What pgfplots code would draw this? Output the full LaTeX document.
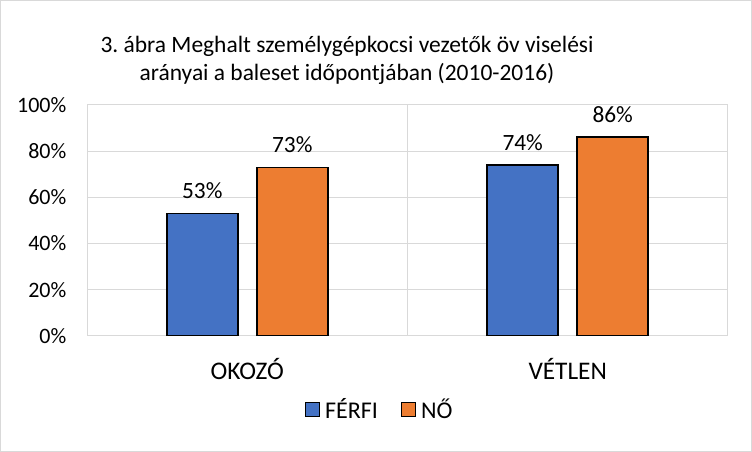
\documentclass[border=0pt]{standalone}
\usepackage{fontspec}
\setmainfont{Carlito}
\usepackage{pgfplots}
\pgfplotsset{compat=1.18}
\frenchspacing

\definecolor{ferfi}{RGB}{68,114,196}
\definecolor{no}{RGB}{237,125,49}
\definecolor{gridgray}{RGB}{217,217,217}

\begin{document}
\begin{tikzpicture}
\begin{axis}[
  at={(0,0)}, anchor=south west,
  width=480.75pt, height=173.25pt, scale only axis,
  ybar=14.25pt, bar width=53.25pt,
  ymin=0, ymax=100, ytick={0,20,...,100},
  yticklabel={\pgfmathprintnumber[assume math mode=true]{\tick}\%},
  xmin=-0.5, xmax=1.5, xtick={0,1}, xticklabels={OKOZÓ,VÉTLEN},
  minor xtick={0.5}, xminorgrids=true, ymajorgrids=true, xmajorgrids=false,
  grid style={gridgray, line width=0.75pt},
  minor grid style={gridgray, line width=0.75pt},
  axis line style={gridgray, line width=0.75pt},
  major tick length=0pt, minor tick length=0pt,
  yticklabel style={font=\fontsize{16.5}{19}\selectfont, text=black, xshift=-12pt},
  xticklabel style={font=\fontsize{19}{22}\selectfont, text=black, yshift=-13pt},
  every axis plot/.append style={draw=black, line width=1.2pt},
  legend entries={FÉRFI,NŐ},
  legend columns=2,
  legend style={at={(axis description cs:0.457,-0.32)}, anchor=center,
    draw=none, font=\fontsize{18}{20}\selectfont,
    /tikz/every odd column/.append style={column sep=2pt},
    /tikz/every even column/.append style={column sep=15pt}},
  legend image code/.code={\draw[#1, line width=0.9pt] (0pt,-5pt) rectangle (10.5pt,5.5pt);},
  nodes near coords={\pgfmathprintnumber[assume math mode=true]{\pgfplotspointmeta}\%},
  nodes near coords style={font=\fontsize{17.5}{20}\selectfont, text=black, anchor=south, yshift=7pt},
]
\addplot[fill=ferfi, draw=black, line width=1.2pt]
  coordinates {(0,53) (1,74)};
\addplot[fill=no, draw=black, line width=1.2pt]
  coordinates {(0,73) (1,86)};
\end{axis}
\node[align=center, font=\fontsize{17.6}{21}\selectfont] at (195pt,206.6pt)
  {3. ábra Meghalt személygépkocsi vezetők öv viselési\\arányai a baleset időpontjában (2010-2016)};
\draw[gridgray, line width=0.75pt] (-64.9pt,-86.6pt) rectangle (498.4pt,251.6pt);
\end{tikzpicture}
\end{document}
